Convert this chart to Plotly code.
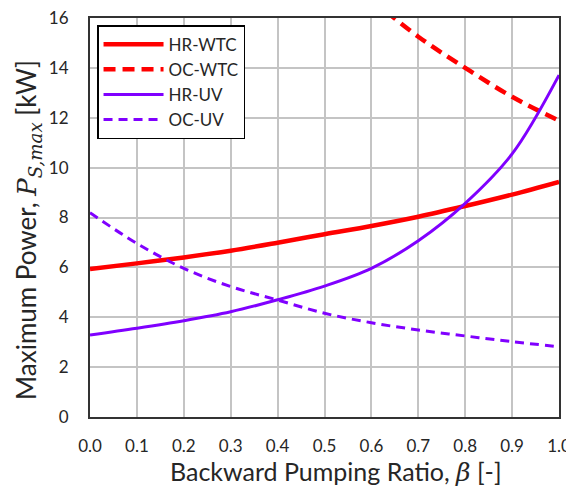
import plotly.graph_objects as go

beta = [0.0, 0.1, 0.2, 0.3, 0.4, 0.5, 0.6, 0.7, 0.8, 0.9, 1.0]
hr_wtc = [5.93, 6.16, 6.40, 6.67, 6.99, 7.33, 7.66, 8.03, 8.46, 8.92, 9.43]
hr_uv = [3.29, 3.56, 3.86, 4.22, 4.70, 5.25, 5.96, 7.07, 8.57, 10.55, 13.71]
oc_uv = [8.19, 6.96, 5.96, 5.23, 4.69, 4.16, 3.78, 3.49, 3.25, 3.02, 2.82]
beta_oc_wtc = [0.6, 0.7, 0.8, 0.9, 1.0]
oc_wtc = [16.75, 15.25, 14.0, 12.84, 11.88]
x_ticks = [0.0, 0.1, 0.2, 0.3, 0.4, 0.5, 0.6, 0.7, 0.8, 0.9, 1.0]
x_tick_labels = ["0.0", "0.1", "0.2", "0.3", "0.4", "0.5", "0.6", "0.7", "0.8", "0.9", "1.0"]
y_ticks = [0, 2, 4, 6, 8, 10, 12, 14, 16]
x_title = "Backward Pumping Ratio, <span style='font-family:DejaVu Serif'><i>β</i></span> [-]"
y_title = "Maximum Power, <span style='font-family:DejaVu Serif'><i>P</i><sub><i>S,max</i></sub></span> [kW]"

RED = "#ff0000"
PURPLE = "#8000ff"
FONT = "Lato"
TXT = "#262626"

fig = go.Figure()
fig.add_trace(go.Scatter(x=beta, y=hr_wtc, mode="lines", name="HR-WTC",
                         line=dict(color=RED, width=4.5, shape="spline")))
fig.add_trace(go.Scatter(x=beta_oc_wtc, y=oc_wtc, mode="lines", name="OC-WTC",
                         line=dict(color=RED, width=4.5, dash="12px,7px", shape="spline")))
fig.add_trace(go.Scatter(x=beta, y=hr_uv, mode="lines", name="HR-UV",
                         line=dict(color=PURPLE, width=3, shape="spline")))
fig.add_trace(go.Scatter(x=beta, y=oc_uv, mode="lines", name="OC-UV",
                         line=dict(color=PURPLE, width=3, dash="9px,6px", shape="spline")))

axis_common = dict(showgrid=True, gridcolor="#c4c4c4", gridwidth=1.5,
                   showline=True, linecolor="#333333", linewidth=2, mirror=True,
                   zeroline=False, ticks="outside", tickcolor="rgba(0,0,0,0)",
                   ticklabeloverflow="allow",
                   tickfont=dict(family=FONT, size=17, color=TXT))

# page body has an 8px default margin: compensate so the plot area sits at
# x 90..559, y 18..417 of the 574x493 window
fig.update_layout(
    width=566, height=485,
    margin=dict(l=82, r=15, t=10, b=76, autoexpand=False),
    paper_bgcolor="white", plot_bgcolor="white",
    font=dict(family=FONT, color=TXT),
    xaxis=dict(range=[0, 1], tickmode="array", tickvals=x_ticks, ticktext=x_tick_labels,
               ticklen=13, **axis_common),
    yaxis=dict(range=[0, 16], tickmode="array", tickvals=y_ticks,
               ticklen=16, **axis_common),
    legend=dict(x=0.015, y=0.982, xanchor="left", yanchor="top",
                bgcolor="white", bordercolor="black", borderwidth=1.5,
                font=dict(family=FONT, size=17, color=TXT),
                tracegroupgap=0, itemwidth=60),
    showlegend=True,
    annotations=[
        dict(text=x_title, xref="paper", yref="paper", x=0.5245, y=-0.137,
             xanchor="center", yanchor="middle", showarrow=False,
             font=dict(family=FONT, size=25, color=TXT)),
        dict(text=y_title, xref="paper", yref="paper", x=-0.132, y=0.469,
             xanchor="center", yanchor="middle", showarrow=False, textangle=-90,
             font=dict(family=FONT, size=26, color=TXT)),
    ],
)

fig.write_html("out.html")
